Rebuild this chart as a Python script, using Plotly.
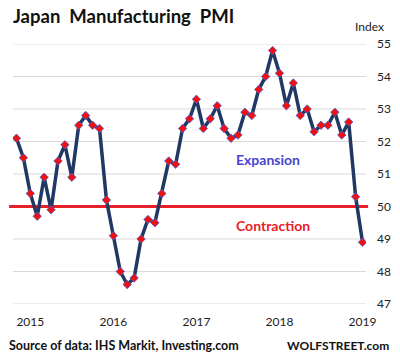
import pandas as pd
import plotly.graph_objects as go

# Monthly categories, Dec 2014 .. Feb 2019
months = [d.strftime("%Y-%m") for d in pd.date_range("2014-12-01", "2019-02-01", freq="MS")]

pmi = [
    52.1,
    51.5, 50.4, 49.7, 50.9, 49.9, 51.4, 51.9, 50.9, 52.5, 52.8, 52.5, 52.4,
    50.2, 49.1, 48.0, 47.6, 47.8, 49.0, 49.6, 49.5, 50.4, 51.4, 51.3, 52.4,
    52.7, 53.3, 52.4, 52.7, 53.1, 52.4, 52.1, 52.2, 52.9, 52.8, 53.6, 54.0,
    54.8, 54.1, 53.1, 53.8, 52.8, 53.0, 52.3, 52.5, 52.5, 52.9, 52.2, 52.6,
    50.3, 48.9,
]

year_tick_months = ["2015-02", "2016-02", "2017-02", "2018-02", "2019-02"]
year_tick_labels = ["2015", "2016", "2017", "2018", "2019"]
y_ticks = [47, 48, 49, 50, 51, 52, 53, 54, 55]
threshold = 50

FONT = "Lato"
NAVY = "#1f3864"
RED = "#e8202a"
BLUE = "#4646cf"
GRID = "#d9d9d9"

fig = go.Figure()
fig.add_trace(go.Scatter(
    x=months, y=pmi, mode="lines+markers",
    line=dict(color=NAVY, width=3.5),
    marker=dict(symbol="diamond", size=6.5, color="#f01010",
                line=dict(color="#4a62d0", width=0.8)),
    showlegend=False, hoverinfo="skip",
))

# horizontal gridlines (drawn as shapes so the threshold line can sit on top)
for t in y_ticks:
    fig.add_shape(type="line", xref="paper", yref="y", x0=0, x1=1, y0=t, y1=t,
                  line=dict(color=GRID, width=1), layer="below")

fig.add_shape(type="line", xref="paper", yref="y",
              x0=-0.011, x1=1.006, y0=threshold, y1=threshold,
              line=dict(color=RED, width=3), layer="below")

fig.update_layout(
    template="none",
    width=400, height=359,
    margin=dict(l=13, r=34, t=44, b=55, autoexpand=False),
    paper_bgcolor="white", plot_bgcolor="white",
    font=dict(family=FONT, size=12, color="#222222"),
    xaxis=dict(
        type="category", range=[-0.5, len(months) - 0.5], automargin=False,
        tickmode="array", tickvals=year_tick_months, ticktext=year_tick_labels,
        showgrid=False, zeroline=False, showline=False, ticks="",
        tickfont=dict(family=FONT, size=12, color="#222222"),
        ticklabelstandoff=9,
    ),
    yaxis=dict(
        side="right", range=[47, 55], tickvals=y_ticks, automargin=False,
        showgrid=False, zeroline=False, showline=False, ticks="",
        tickfont=dict(family=FONT, size=12, color="#222222"),
        ticklabelstandoff=10,
    ),
    annotations=[
        dict(text="<b>Japan  Manufacturing  PMI</b>", xref="paper", yref="paper",
             x=-0.006, y=1.108, xanchor="left", yanchor="middle", showarrow=False,
             font=dict(family=FONT, size=18.5, color="#111111")),
        dict(text="Index", xref="paper", yref="paper",
             x=1.011, y=1.069, xanchor="center", yanchor="middle", showarrow=False,
             font=dict(family=FONT, size=12, color="#222222")),
        dict(text="<b>Expansion</b>", xref="paper", yref="y",
             x=0.721, y=51.45, xanchor="center", yanchor="middle", showarrow=False,
             font=dict(family=FONT, size=14, color=BLUE)),
        dict(text="<b>Contraction</b>", xref="paper", yref="y",
             x=0.7365, y=49.42, xanchor="center", yanchor="middle", showarrow=False,
             font=dict(family=FONT, size=14, color=RED)),
        dict(text="<b>Source of data: IHS Markit, Investing.com</b>", xref="paper", yref="paper",
             x=-0.017, y=-0.158, xanchor="left", yanchor="middle", showarrow=False,
             font=dict(family=FONT, size=12.5, color="#111111")),
        dict(text="<b>WOLFSTREET.com</b>", xref="paper", yref="paper",
             x=1.0708, y=-0.158, xanchor="right", yanchor="middle", showarrow=False,
             font=dict(family=FONT, size=12, color="#111111")),
    ],
)

fig.write_html("out.html", config={"displayModeBar": False},
               post_script="document.body.style.margin='0';document.body.style.padding='0';")
